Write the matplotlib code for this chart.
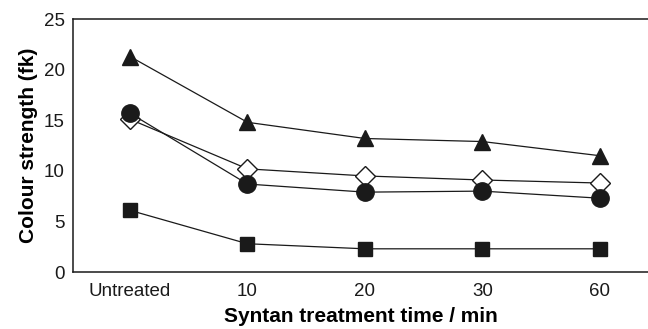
import matplotlib
matplotlib.use("Agg")
import matplotlib.pyplot as plt
import numpy as np

plt.rcParams['font.family'] = ['Liberation Sans', 'DejaVu Sans']

# treatment times
categories = ['Untreated', '10', '20', '30', '60']

# colour strength values (fk) for the four series
triangle_vals = [21.3, 14.8, 13.2, 12.9, 11.5]
diamond_vals = [15.1, 10.2, 9.5, 9.1, 8.8]
circle_vals = [15.7, 8.7, 7.9, 8.0, 7.3]
square_vals = [6.1, 2.8, 2.3, 2.3, 2.3]

x = np.arange(len(categories))

fig = plt.figure(figsize=(6.48, 3.29), dpi=100)
ax = fig.add_axes([0.1127, 0.173, 0.8873, 0.769])

line_kw = dict(color='#1a1a1a', linewidth=0.9)

ax.plot(x, triangle_vals, marker='^', markersize=12, markerfacecolor='#1a1a1a',
        markeredgecolor='#1a1a1a', **line_kw)
ax.plot(x, diamond_vals, marker='D', markersize=10, markerfacecolor='white',
        markeredgecolor='#1a1a1a', markeredgewidth=1.0, **line_kw)
ax.plot(x, circle_vals, marker='o', markersize=12.5, markerfacecolor='#1a1a1a',
        markeredgecolor='#1a1a1a', **line_kw)
ax.plot(x, square_vals, marker='s', markersize=10.5, markerfacecolor='#1a1a1a',
        markeredgecolor='#1a1a1a', **line_kw)

ax.set_xlim(-0.485, 4.41)
ax.set_ylim(0, 25)
ax.set_yticks([0, 5, 10, 15, 20, 25])
ax.set_xticks(x)
ax.set_xticklabels(categories)

ax.tick_params(axis='both', length=0, labelsize=13.5, colors='#1a1a1a')
ax.tick_params(axis='y', pad=6)
ax.tick_params(axis='x', pad=8)

ax.spines['right'].set_visible(False)
for side in ['left', 'top', 'bottom']:
    ax.spines[side].set_linewidth(1.1)
    ax.spines[side].set_color('#1a1a1a')

ax.set_ylabel('Colour strength (fk)', fontsize=15, fontweight='bold', labelpad=4)
ax.set_xlabel('Syntan treatment time / min', fontsize=15, fontweight='bold', labelpad=5)

fig.savefig('out.png', dpi=100)
